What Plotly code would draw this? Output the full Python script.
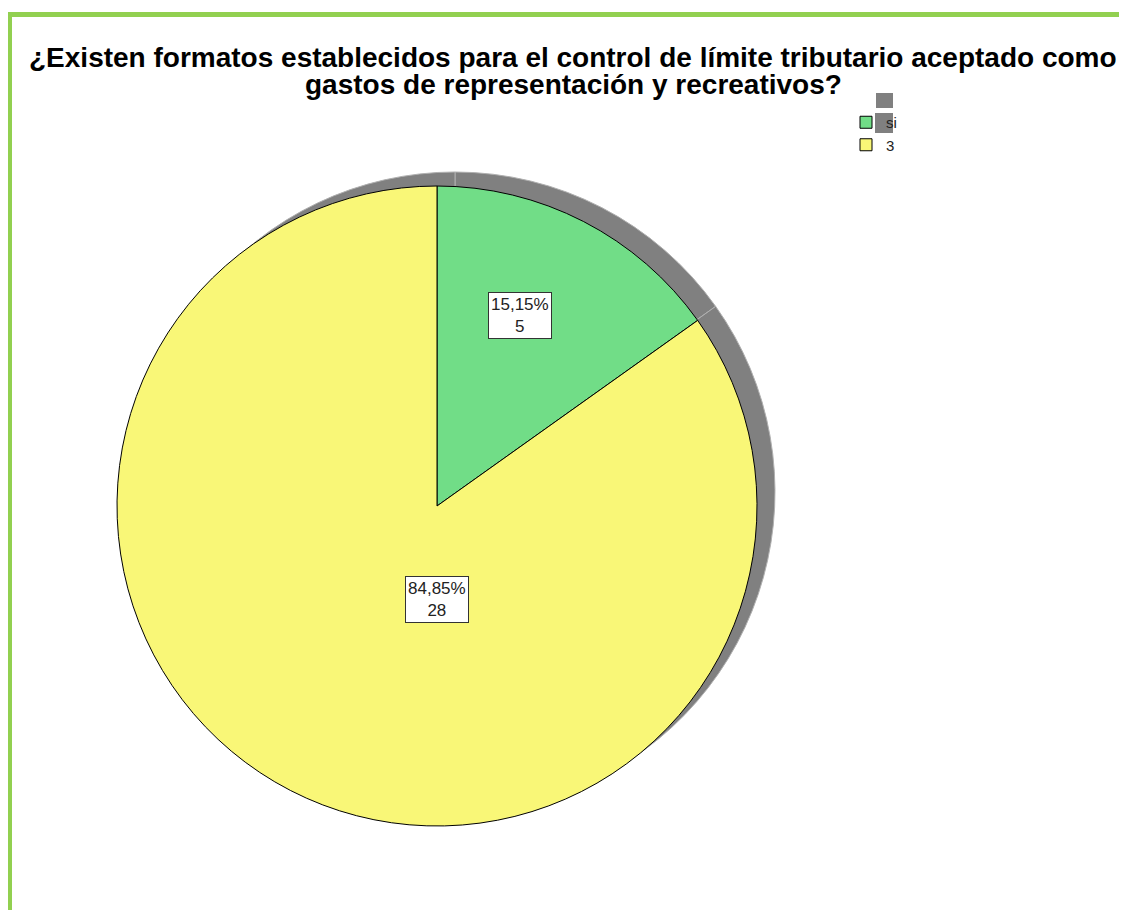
import plotly.graph_objects as go

# datos
categorias = ["si", "3"]
frecuencias = [5, 28]
colores = ["#71DD87", "#F9F777"]

titulo_1 = "¿Existen formatos establecidos para el control de límite tributario aceptado como"
titulo_2 = "gastos de representación y recreativos?"

total = sum(frecuencias)
porcentajes = [f * 100 / total for f in frecuencias]
etiquetas = [f"{p:.2f}".replace(".", ",") + f"%<br>{f}" for p, f in zip(porcentajes, frecuencias)]

# la pagina html tiene 8px de margen, la figura empieza en (8, 8)
OFF = 8
W, H = 1127 - OFF, 910 - OFF


def px_x(v):
    return (v - OFF) / W


def px_y(v):
    return 1 - (v - OFF) / H


# posicion del pastel (centro y radio en pixeles de la pagina)
cx, cy, r = 437, 506, 320
sx, sy = 455, 492  # sombra

fig = go.Figure()

# sombra gris
fig.add_trace(go.Pie(
    labels=categorias, values=frecuencias, sort=False, direction="clockwise", rotation=0,
    marker=dict(colors=["#808080", "#808080"], line=dict(color="#B0B0B0", width=1)),
    textinfo="none", hoverinfo="skip", showlegend=False,
    domain=dict(x=[px_x(sx - r), px_x(sx + r)], y=[px_y(sy + r), px_y(sy - r)]),
))

# pastel principal
fig.add_trace(go.Pie(
    labels=categorias, values=frecuencias, sort=False, direction="clockwise", rotation=0,
    marker=dict(colors=colores, line=dict(color="black", width=1)),
    textinfo="none", showlegend=True,
    domain=dict(x=[px_x(cx - r), px_x(cx + r)], y=[px_y(cy + r), px_y(cy - r)]),
))

# etiquetas con recuadro
pos_etiquetas = [(520, 315), (437, 623)]
for txt, (lx, ly) in zip(etiquetas, pos_etiquetas):
    fig.add_annotation(
        x=px_x(lx), y=px_y(ly), xref="paper", yref="paper", text=txt, showarrow=False,
        font=dict(family="Liberation Sans, Arial", size=17, color="#222"),
        bgcolor="white", bordercolor="#333", borderwidth=1, borderpad=2,
    )

# titulo (dos lineas separadas para controlar el interlineado)
for linea, ty in [(titulo_1, 58), (titulo_2, 85)]:
    fig.add_annotation(
        x=px_x(573), y=px_y(ty), xref="paper", yref="paper", xanchor="center", yanchor="middle",
        text=f"<b>{linea}</b>", showarrow=False,
        font=dict(family="Liberation Sans, Arial", size=28, color="black"),
    )

# marco verde y restos grises de la leyenda
fig.add_shape(type="line", xref="paper", yref="paper", x0=px_x(9.5), x1=px_x(9.5), y0=0, y1=px_y(12),
              line=dict(color="#92D050", width=5))
fig.add_shape(type="line", xref="paper", yref="paper", x0=0, x1=1, y0=px_y(14.5), y1=px_y(14.5),
              line=dict(color="#92D050", width=5))
fig.add_shape(type="rect", xref="paper", yref="paper", x0=px_x(876), x1=px_x(893), y0=px_y(108), y1=px_y(93),
              fillcolor="#808080", line=dict(width=0), layer="below")
fig.add_shape(type="rect", xref="paper", yref="paper", x0=px_x(875), x1=px_x(893), y0=px_y(133), y1=px_y(113),
              fillcolor="#808080", line=dict(width=0), layer="below")

fig.update_layout(
    width=W, height=H,
    margin=dict(l=0, r=0, t=0, b=0),
    paper_bgcolor="white", plot_bgcolor="white",
    legend=dict(x=px_x(846), y=px_y(106), xanchor="left", yanchor="top",
                font=dict(family="Liberation Sans, Arial", size=15, color="#222"),
                bgcolor="rgba(0,0,0,0)", tracegroupgap=0, itemwidth=30),
)

fig.write_html("out.html")
